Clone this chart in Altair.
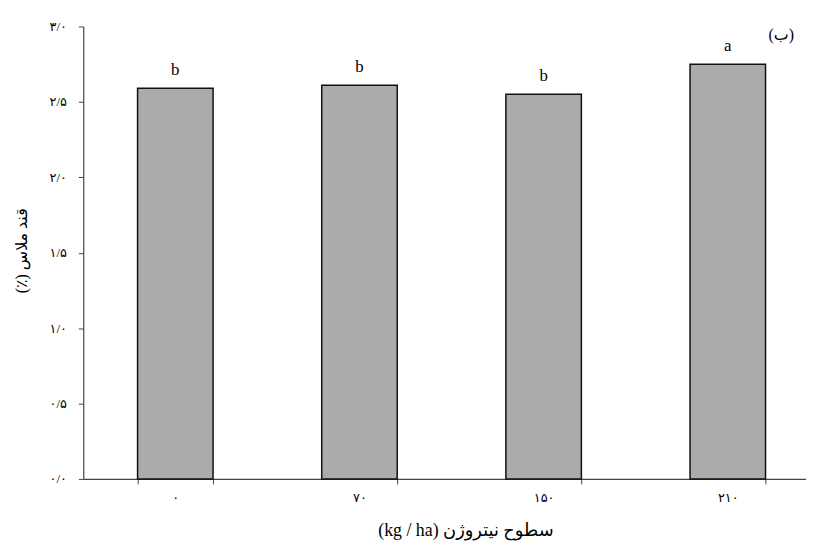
import altair as alt
import pandas as pd

levels = ["۰", "۷۰", "۱۵۰", "۲۱۰"]
sugar = [2.59, 2.61, 2.55, 2.75]
letters = ["b", "b", "b", "a"]
y_ticks = [0, 0.5, 1.0, 1.5, 2.0, 2.5, 3.0]
y_tick_labels = ["۰/۰", "۰/۵", "۱/۰", "۱/۵", "۲/۰", "۲/۵", "۳/۰"]
panel_label = "(ب)"
# RTL embedding so the parenthetical parts sit on the left, as in the reference
x_title = "\u202bسطوح نیتروژن (kg / ha)\u202c"
y_title = "\u202bقند ملاس (٪)\u202c"

df = pd.DataFrame({"level": levels, "sugar": sugar, "letter": letters})

label_expr = ""
for v, lab in zip(y_ticks, y_tick_labels):
    label_expr += f"abs(datum.value - {v}) < 0.001 ? '{lab}' : "
label_expr += "''"

FONT = "Liberation Serif, DejaVu Sans"

x_enc = alt.X(
    "level:N",
    sort=levels,
    scale=alt.Scale(range=[0, 744], paddingInner=0.59, paddingOuter=0.295),
    axis=alt.Axis(
        title=x_title,
        labelAngle=0,
        tickBand="extent",
        tickSize=5,
        labelPadding=8,
        labelFontSize=13,
        titleFontSize=18,
        titleFontWeight="normal",
        titleX=386,
        titleY=57,
        titleAlign="center",
        titleBaseline="alphabetic",
    ),
)

y_enc = alt.Y(
    "sugar:Q",
    scale=alt.Scale(domain=[0, 3], nice=False),
    axis=alt.Axis(
        title=y_title,
        values=y_ticks,
        labelExpr=label_expr,
        grid=False,
        tickSize=5,
        labelPadding=12,
        labelFontSize=13,
        titleFontSize=16,
        titleFontWeight="normal",
        titleX=-54,
        titleY=226,
    ),
)

bars = alt.Chart(df).mark_bar(
    color="#ababab", stroke="#111111", strokeWidth=1.5
).encode(x=x_enc, y=y_enc)

text = alt.Chart(df).mark_text(
    baseline="bottom", dy=-9, fontSize=17, font=FONT, color="#000000"
).encode(x=alt.X("level:N", sort=levels), y="sugar:Q", text="letter:N")

panel = alt.Chart(pd.DataFrame({"t": [panel_label]})).mark_text(
    fontSize=16, font=FONT, color="#000000", align="center", baseline="middle"
).encode(x=alt.value(705), y=alt.value(9), text="t:N")

chart = (
    alt.layer(bars, text, panel)
    .properties(
        width=730,
        height=457,
        autosize=alt.AutoSizeParams(type="none"),
        padding={"left": 76, "top": 16, "right": 0, "bottom": 60},
    )
    .configure_view(stroke=None)
    .configure_axis(
        domainColor="#444444",
        tickColor="#444444",
        labelColor="#000000",
        titleColor="#000000",
        labelFont=FONT,
        titleFont=FONT,
        domainWidth=1.2,
    )
)

chart.save("out.html", embed_options={"renderer": "svg", "actions": False})
